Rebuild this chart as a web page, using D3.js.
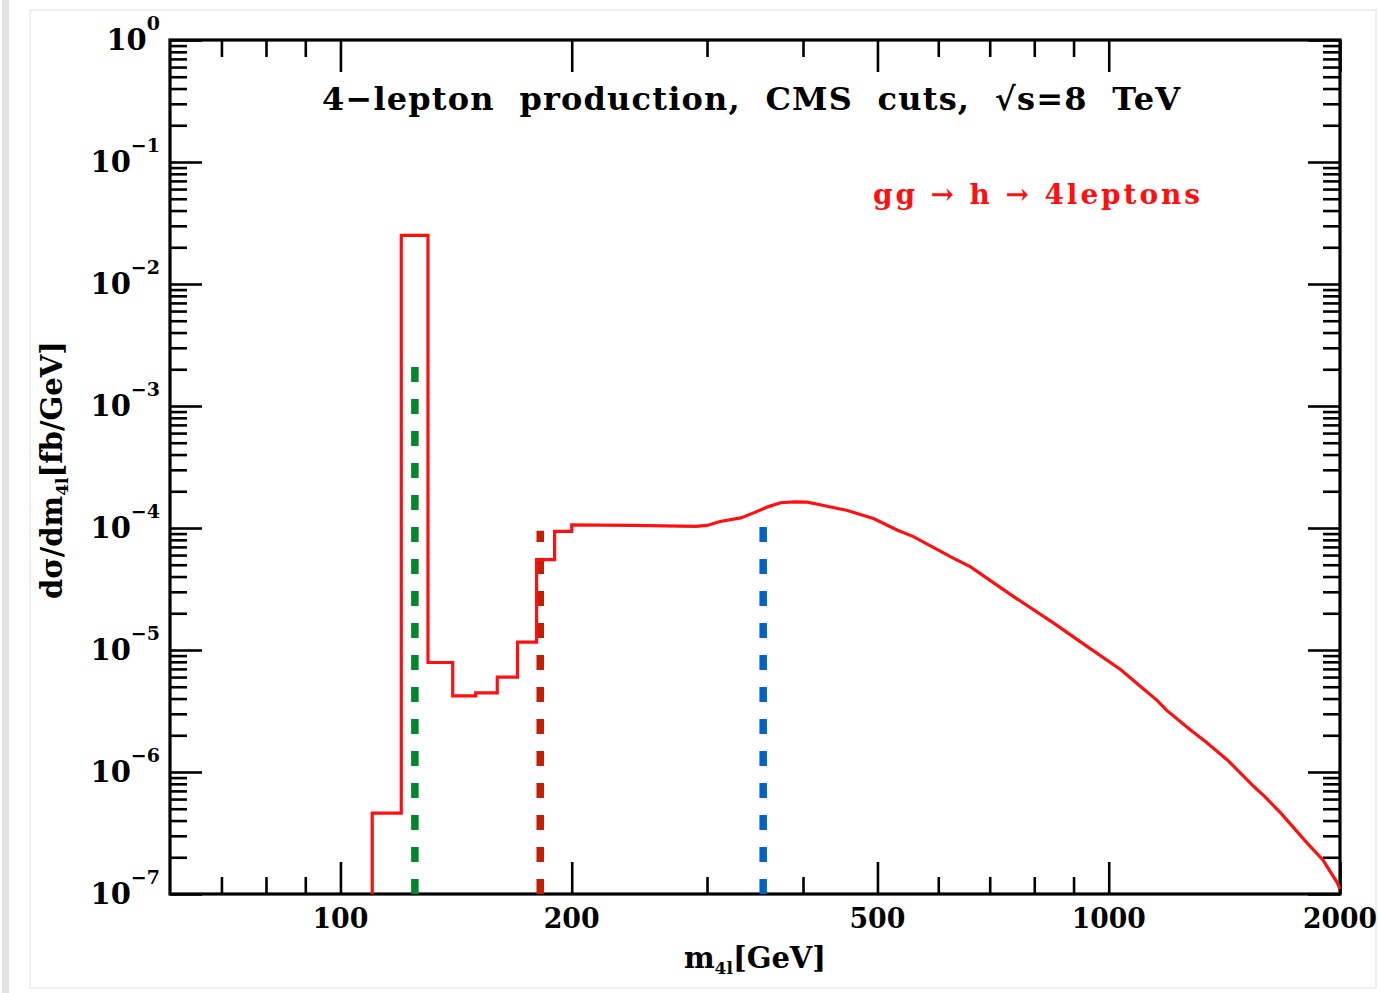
<!DOCTYPE html>
<html>
<head>
<meta charset="utf-8">
<script src="https://cdn.jsdelivr.net/npm/d3@7"></script>
<style>
  body { margin: 0; background: #fff; }
  svg text { font-family: "DejaVu Serif", serif; font-weight: bold; }
  .axis path, .axis line { stroke: #000; }
</style>
</head>
<body>
<svg id="chart" width="1380" height="993"></svg>
<script>
// low-mass histogram, 10 GeV bins (edges and bin heights)
var binEdges = [110, 120, 130, 140, 150, 160, 170, 180, 190, 200];
var binValues = [4.6e-7, 2.5e-2, 7.9e-6, 4.2e-6, 4.45e-6, 6.0e-6, 1.16e-5, 5.5e-5, 9.4e-5];

// continuum above 200 GeV
var contMass = [200, 240, 290, 300, 312, 332, 345, 360, 374, 390, 405, 421, 457, 495, 531, 557,
  623, 661, 752, 848, 939, 1037, 1101, 1157, 1190, 1279, 1340, 1428, 1545, 1600, 1675, 1814, 1900, 1985, 2000];
var contValues = [1.06e-4, 1.05e-4, 1.03e-4, 1.05e-4, 1.13e-4, 1.21e-4, 1.33e-4, 1.49e-4, 1.61e-4, 1.64e-4,
  1.63e-4, 1.55e-4, 1.39e-4, 1.19e-4, 9.6e-5, 8.5e-5, 5.8e-5, 4.8e-5, 2.74e-5, 1.66e-5, 1.06e-5, 6.9e-6,
  5.0e-6, 3.85e-6, 3.2e-6, 2.2e-6, 1.75e-6, 1.25e-6, 7.6e-7, 6.2e-7, 4.6e-7, 2.6e-7, 1.9e-7, 1.23e-7, 1.1e-7];

// vertical thresholds: m_h, 2 m_Z, 2 m_t
var markerMass = [125, 182, 355];
var markerTop = [2.2e-3, 9.5e-5, 1.16e-4];
var markerColor = ['#00862d', '#c42000', '#0063c8'];

var xMajor = [100, 200, 500, 1000, 2000];
var xMinor = [70, 80, 90, 300, 400, 600, 700, 800, 900];
var yExp = [0, -1, -2, -3, -4, -5, -6, -7];

var svg = d3.select('#chart');
var pl = 170, pr = 1340, pt = 40, pb = 894;

var x = d3.scaleLog().domain([60, 2000]).range([pl, pr]);
var y = d3.scaleLog().domain([1e-7, 1]).range([pb, pt]);

// faint page frame like the scanned figure
svg.append('rect').attr('x', 2).attr('y', 0).attr('width', 7).attr('height', 993).attr('fill', '#e4e4e4');
svg.append('rect').attr('x', 30).attr('y', 10).attr('width', 1346).attr('height', 978)
  .attr('fill', 'none').attr('stroke', '#efefef').attr('stroke-width', 2);

var yMinor = [];
yExp.slice(0, -1).forEach(function(e) {
  for (var m = 2; m <= 9; m++) yMinor.push(m * Math.pow(10, e - 1));
});
var yMajor = yExp.map(function(e) { return Math.pow(10, e); });

function addAxis(gen, vals, size, tx, ty) {
  var g = svg.append('g').attr('class', 'axis')
    .attr('transform', 'translate(' + tx + ',' + ty + ')')
    .call(gen.tickValues(vals).tickSize(size).tickFormat(''));
  g.selectAll('line').attr('stroke-width', 2.6);
  g.select('.domain').remove();
}

addAxis(d3.axisBottom(x), xMajor, -32, 0, pb);
addAxis(d3.axisBottom(x), xMinor, -17, 0, pb);
addAxis(d3.axisTop(x), xMajor, -32, 0, pt);
addAxis(d3.axisTop(x), xMinor, -17, 0, pt);
addAxis(d3.axisLeft(y), yMajor, -32, pl, 0);
addAxis(d3.axisLeft(y), yMinor, -17, pl, 0);
addAxis(d3.axisRight(y), yMajor, -32, pr, 0);
addAxis(d3.axisRight(y), yMinor, -17, pr, 0);

svg.append('rect').attr('x', pl).attr('y', pt)
  .attr('width', pr - pl).attr('height', pb - pt)
  .attr('fill', 'none').attr('stroke', '#000').attr('stroke-width', 3.2);

// y tick labels 10^n
yExp.forEach(function(e) {
  var t = svg.append('text').attr('x', 160).attr('y', y(Math.pow(10, e)) + 10)
    .attr('text-anchor', 'end').attr('font-size', 29);
  t.append('tspan').text('10');
  t.append('tspan').attr('dy', -20).attr('font-size', 19).text(e === 0 ? '0' : '\u2212' + (-e));
});

// x tick labels
xMajor.forEach(function(v) {
  svg.append('text').attr('x', x(v)).attr('y', 928)
    .attr('text-anchor', 'middle').attr('font-size', 28)
    .attr('textLength', v >= 1000 ? 74 : 56).attr('lengthAdjust', 'spacingAndGlyphs')
    .text(v);
});

// markers
markerMass.forEach(function(m, i) {
  svg.append('line')
    .attr('x1', x(m)).attr('x2', x(m))
    .attr('y1', y(1e-7)).attr('y2', y(markerTop[i]))
    .attr('stroke', markerColor[i]).attr('stroke-width', 7.5)
    .attr('stroke-dasharray', '15,17');
});

// histogram path
var pts = [[binEdges[0], 1e-7]];
binValues.forEach(function(v, i) {
  pts.push([binEdges[i], v]);
  pts.push([binEdges[i + 1], v]);
});
contMass.forEach(function(m, i) { pts.push([m, contValues[i]]); });

var line = d3.line().x(function(d) { return x(d[0]); }).y(function(d) { return y(d[1]); });
svg.append('path').datum(pts).attr('d', line)
  .attr('fill', 'none').attr('stroke', '#ff1010').attr('stroke-width', 3.2)
  .attr('stroke-linejoin', 'miter');

// title and legend
svg.append('text').attr('x', 322).attr('y', 110).attr('font-size', 32)
  .attr('textLength', 858).attr('lengthAdjust', 'spacing')
  .attr('xml:space', 'preserve')
  .text('4\u2212lepton  production,  CMS  cuts,  \u221as=8  TeV');

svg.append('text').attr('x', 873).attr('y', 204).attr('font-size', 28)
  .attr('fill', '#ff1010').attr('textLength', 327).attr('lengthAdjust', 'spacing')
  .attr('xml:space', 'preserve')
  .text('gg \u2192 h \u2192 4leptons');

// axis titles
var xl = svg.append('text').attr('x', 755).attr('y', 968).attr('text-anchor', 'middle').attr('font-size', 29);
xl.append('tspan').text('m');
xl.append('tspan').attr('font-size', 17).attr('dy', 6).text('4l');
xl.append('tspan').attr('dy', -6).text('[GeV]');

var yl = svg.append('text').attr('transform', 'translate(62,470) rotate(-90)')
  .attr('text-anchor', 'middle').attr('font-size', 29);
yl.append('tspan').text('d\u03c3/dm');
yl.append('tspan').attr('font-size', 17).attr('dy', 6).text('4l');
yl.append('tspan').attr('dy', -6).text('[fb/GeV]');
</script>
</body>
</html>
